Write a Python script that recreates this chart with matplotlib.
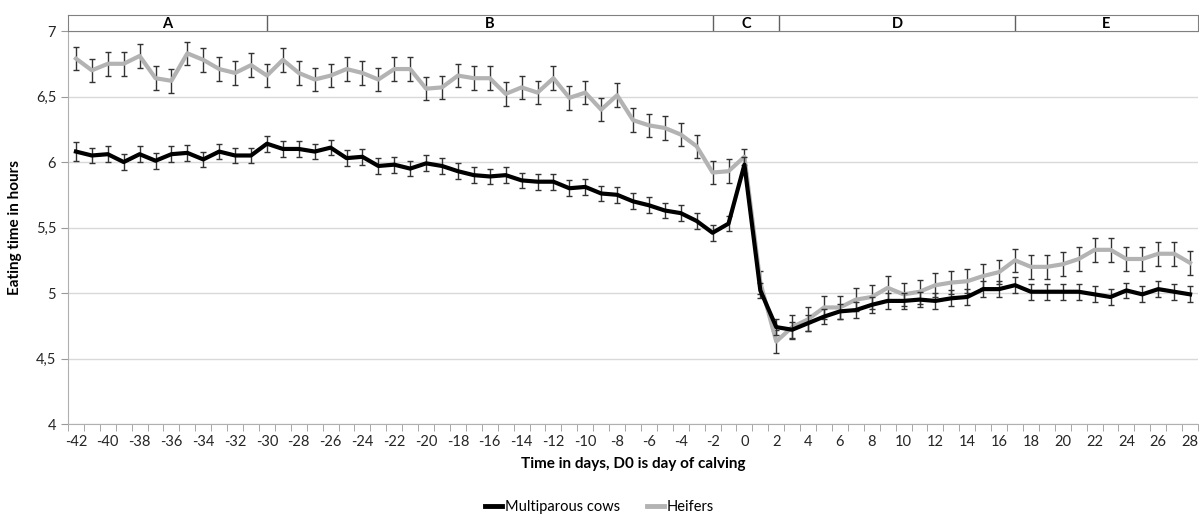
import matplotlib
matplotlib.use("Agg")
import matplotlib.pyplot as plt
from matplotlib.lines import Line2D
import numpy as np

plt.rcParams['font.family'] = ['Lato', 'DejaVu Sans']

days = list(range(-42, 29))

multiparous = [6.08, 6.05, 6.06, 6.00, 6.06, 6.01, 6.06, 6.07, 6.02, 6.08, 6.05, 6.05,
               6.14, 6.10, 6.10, 6.08, 6.11, 6.03, 6.04, 5.97, 5.98,
               5.95, 5.99, 5.97, 5.93, 5.90, 5.89, 5.90, 5.86, 5.85, 5.85, 5.80, 5.81,
               5.76, 5.75, 5.70, 5.67, 5.63, 5.61, 5.55, 5.46, 5.53, 5.98,
               5.02, 4.74, 4.72, 4.77, 4.82, 4.86, 4.87, 4.91, 4.94, 4.94, 4.95, 4.94,
               4.96, 4.97, 5.03, 5.03, 5.06, 5.01, 5.01, 5.01, 5.01, 4.99, 4.97, 5.02,
               4.99, 5.03, 5.01, 4.99]
multiparous_err = [0.07, 0.06, 0.06, 0.06, 0.06, 0.06, 0.06, 0.06, 0.06, 0.06, 0.06, 0.06,
                   0.06, 0.06, 0.06, 0.06, 0.06, 0.06, 0.06, 0.06, 0.06,
                   0.06, 0.06, 0.06, 0.06, 0.06, 0.06, 0.06, 0.06, 0.06, 0.06, 0.06, 0.06,
                   0.06, 0.06, 0.06, 0.06, 0.06, 0.06, 0.06, 0.06, 0.06, 0.06,
                   0.06, 0.06, 0.06, 0.06, 0.06, 0.06, 0.06, 0.06, 0.06, 0.06, 0.06, 0.06,
                   0.06, 0.06, 0.06, 0.06, 0.06, 0.06, 0.06, 0.06, 0.06, 0.06, 0.06, 0.06,
                   0.06, 0.06, 0.06, 0.06]

heifers = [6.79, 6.70, 6.75, 6.75, 6.81, 6.64, 6.62, 6.83, 6.78, 6.71, 6.68, 6.74,
           6.66, 6.78, 6.68, 6.63, 6.66, 6.71, 6.68, 6.63, 6.71,
           6.71, 6.56, 6.57, 6.66, 6.64, 6.64, 6.52, 6.57, 6.53, 6.64, 6.49, 6.53,
           6.40, 6.51, 6.32, 6.28, 6.26, 6.21, 6.12, 5.92, 5.93, 6.04,
           5.08, 4.63, 4.74, 4.80, 4.89, 4.89, 4.95, 4.97, 5.04, 4.99, 5.01, 5.06,
           5.08, 5.09, 5.13, 5.16, 5.25, 5.20, 5.20, 5.22, 5.26, 5.33, 5.33, 5.26,
           5.26, 5.30, 5.30, 5.23]
heifers_err = [0.09, 0.09, 0.09, 0.09, 0.09, 0.09, 0.09, 0.09, 0.09, 0.09, 0.09, 0.09,
               0.09, 0.09, 0.09, 0.09, 0.09, 0.09, 0.09, 0.09, 0.09,
               0.09, 0.09, 0.09, 0.09, 0.09, 0.09, 0.09, 0.09, 0.09, 0.09, 0.09, 0.09,
               0.09, 0.09, 0.09, 0.09, 0.09, 0.09, 0.09, 0.09, 0.09, 0.06,
               0.09, 0.09, 0.09, 0.09, 0.09, 0.09, 0.09, 0.09, 0.09, 0.09, 0.09, 0.09,
               0.09, 0.09, 0.09, 0.09, 0.09, 0.09, 0.09, 0.09, 0.09, 0.09, 0.09, 0.09,
               0.09, 0.09, 0.09, 0.09]

periods = ['A', 'B', 'C', 'D', 'E']
period_edges = [-42.5, -30, -2, 2.2, 17, 28.5]

fig = plt.figure(figsize=(11.99, 5.14), dpi=100)
ax = fig.add_axes([0.0567, 0.175, 0.9425, 0.7646])

ax.errorbar(days, heifers, yerr=heifers_err, color='#b3b3b3', lw=3,
            ecolor='#333333', elinewidth=1, capsize=2.5, capthick=1, zorder=3)
ax.errorbar(days, multiparous, yerr=multiparous_err, color='black', lw=3,
            ecolor='#333333', elinewidth=1, capsize=2.5, capthick=1, zorder=4)

ax.set_xlim(-42.5, 28.5)
ax.set_ylim(4, 7)
ax.set_yticks(np.arange(4, 7.01, 0.5))
ax.set_yticklabels(['4', '4,5', '5', '5,5', '6', '6,5', '7'])
ax.yaxis.grid(True, color='#d9d9d9', lw=1)
ax.set_axisbelow(True)

ax.set_xticks(days[::2])
ax.set_xticklabels([str(d) for d in days[::2]])
ax.set_xticks(np.arange(-42.5, 29, 1), minor=True)
ax.tick_params(axis='x', which='major', length=0, labelsize=10.5, pad=8, colors='#262626')
ax.tick_params(axis='x', which='minor', length=5, color='#999999')
ax.tick_params(axis='y', length=5, labelsize=10.5, colors='#262626')
ax.tick_params(axis='y', color='#999999')

for s in ['top', 'right']:
    ax.spines[s].set_visible(False)
ax.spines['left'].set_color('#b0b0b0')
ax.spines['bottom'].set_color('#b0b0b0')

ax.set_xlabel('Time in days, D0 is day of calving', fontsize=11, fontweight='bold', labelpad=6)
ax.set_ylabel('Eating time in hours', fontsize=11, fontweight='bold', labelpad=10)

# period header band
hx = fig.add_axes([0.0567, 0.9397, 0.9425, 0.031])
hx.set_xlim(-42.5, 28.5)
hx.set_ylim(0, 1)
hx.set_xticks([])
hx.set_yticks([])
for s in hx.spines.values():
    s.set_color('#808080')
for i, name in enumerate(periods):
    if i > 0:
        hx.axvline(period_edges[i], color='#606060', lw=1)
    hx.text((period_edges[i] + period_edges[i + 1]) / 2, 0.45, name,
            ha='center', va='center', fontsize=10.5, fontweight='bold')

handles = [Line2D([], [], color='black', lw=3.5),
           Line2D([], [], color='#b3b3b3', lw=3.5)]
fig.legend(handles, ['Multiparous cows', 'Heifers'], loc='lower center', ncol=2,
           frameon=False, fontsize=10.5, bbox_to_anchor=(0.5, -0.025),
           handlelength=1.2, handletextpad=0.2, columnspacing=1.8)

fig.savefig('out.png', dpi=100)
